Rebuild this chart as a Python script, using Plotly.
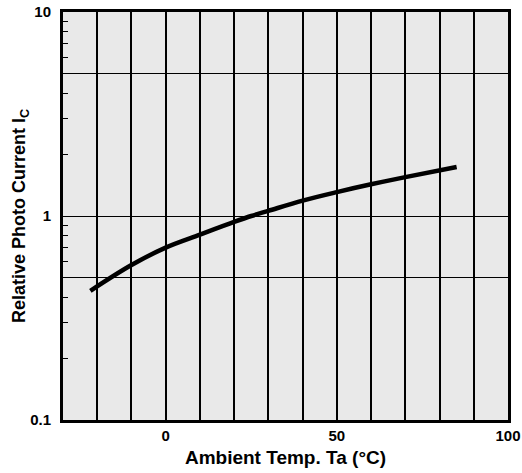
import plotly.graph_objects as go

temp = [-22, -10, 0, 10, 20, 25, 30, 40, 50, 60, 70, 85]
rel_current = [0.43, 0.575, 0.70, 0.81, 0.935, 1.0, 1.06, 1.19, 1.31, 1.43, 1.55, 1.74]

x_tickvals = list(range(-30, 101, 10))
x_ticktext = ["0" if v == 0 else "50" if v == 50 else "100" if v == 100 else "" for v in x_tickvals]
y_tickvals = [0.1, 0.5, 1, 5, 10]
y_ticktext = ["0.1", "", "1", "", "10"]
y_minor = [0.2, 0.3, 0.4, 0.6, 0.7, 0.8, 0.9, 2, 3, 4, 6, 7, 8, 9]

fig = go.Figure()
fig.add_trace(go.Scatter(x=temp, y=rel_current, mode="lines",
                         line=dict(color="black", width=4.5, shape="spline"),
                         showlegend=False, hoverinfo="skip"))

font = dict(family="Liberation Sans, Arial, sans-serif", size=13, color="black")
fig.update_layout(
    width=522, height=473,
    margin=dict(l=63, r=14, t=12, b=53),
    paper_bgcolor="white", plot_bgcolor="#e9e9e9",
    font=font,
    xaxis=dict(range=[-30, 100], tickmode="array", tickvals=x_tickvals, ticktext=x_ticktext,
               showgrid=True, gridcolor="black", gridwidth=2, zeroline=False, automargin=False,
               showline=True, linecolor="black", linewidth=3, mirror=True, ticklabeloverflow="allow",
               ticks="", tickfont=dict(size=15, family="Liberation Sans, Arial", weight="bold"),
               title=dict(text="<b>Ambient Temp. Ta (°C)</b>", font=dict(size=19), standoff=8)),
    yaxis=dict(type="log", range=[-1, 1], tickmode="array", tickvals=y_tickvals, ticktext=y_ticktext,
               showgrid=True, gridcolor="black", gridwidth=1, zeroline=False, automargin=False,
               showline=True, linecolor="black", linewidth=3, mirror=True, ticklabeloverflow="allow",
               ticks="", ticklabelstandoff=6,
               tickfont=dict(size=15, family="Liberation Sans, Arial", weight="bold"),
               minor=dict(tickmode="array", tickvals=y_minor, ticks="inside", ticklen=5,
                          tickcolor="black", tickwidth=1, showgrid=False),
               title=dict(text="<b>Relative Photo Current I<sub>C</sub></b>",
                          font=dict(size=18), standoff=0)),
)
fig.write_html("out.html", config={"displayModeBar": False},
               post_script="document.body.style.margin='0';")
